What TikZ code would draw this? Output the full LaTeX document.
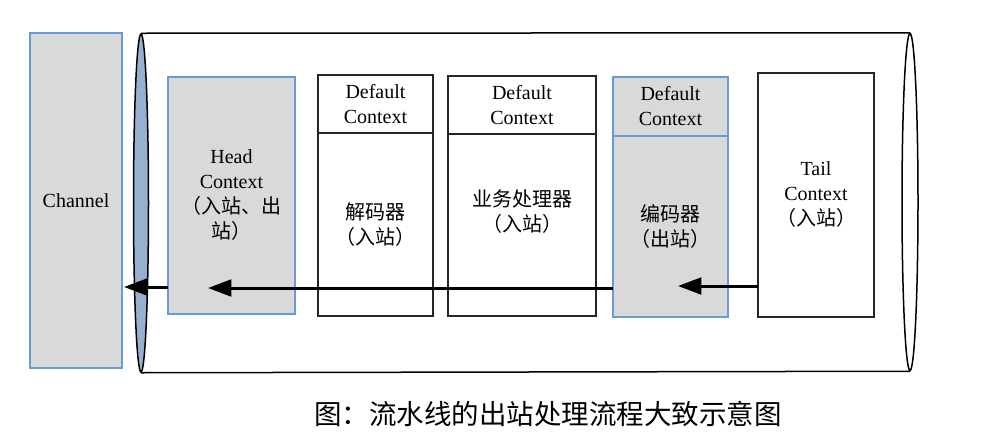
\documentclass[tikz,border=0pt]{standalone}
\usepackage{fontspec}
\setmainfont{Liberation Serif}
\newfontfamily\cjk{Noto Sans CJK SC}
\usetikzlibrary{shapes.geometric, arrows.meta, positioning}
\definecolor{boxgray}{HTML}{D9D9D9}
\definecolor{boxblue}{HTML}{6A9BD8}
\definecolor{ringblue}{HTML}{98B0CF}

\begin{document}
\begin{tikzpicture}[
  x=0.6pt, y=-0.6pt,
  font=\fontsize{12}{15}\selectfont,
  plain/.style={draw=black!85, line width=0.9pt, outer sep=0pt, inner sep=0pt, align=center},
  shaded/.style={draw=boxblue, fill=boxgray, line width=0.9pt, outer sep=0pt, inner sep=0pt, align=center},
  dim/.style 2 args={minimum width=#1*0.6pt, minimum height=#2*0.6pt},
  flow/.style={line width=1.8pt, -{Triangle[length=14pt, width=10pt]}}]

  \useasboundingbox (0,0) rectangle (994,435);

  % pipeline
  \node[ellipse, draw, fill=ringblue, line width=0.9pt, inner sep=0pt, dim={15}{338}] (lring) at (141,203) {};
  \node[ellipse, draw, fill=white, line width=0.9pt, inner sep=0pt, dim={16}{337}] (rring) at (910,202) {};
  \draw[line width=0.9pt] (lring.north) -- (rring.north) (lring.south) -- (rring.south);

  \node[shaded, dim={92}{335}] (channel) at (76,200.5) {Channel};

  \node[shaded, dim={127}{237}] (head) at (231.5,195.5)
    {Head\\Context\\{\cjk （入站、出}\\{\cjk 站）}};

  \node[plain, dim={115}{58}] (dechead) at (375.5,104) {Default\\Context};
  \node[plain, dim={115}{183}, below=0pt of dechead] (decbody)
    {{\cjk 解码器}\\{\cjk （入站）}};

  \node[plain, dim={148}{58}] (bizhead) at (522,105) {Default\\Context};
  \node[plain, dim={148}{182}, below=0pt of bizhead] (bizbody) {};
  \node[align=center] (biztext) at (522,211.5) {{\cjk 业务处理器}\\{\cjk （入站）}};

  \node[shaded, dim={115}{59}] (enchead) at (670.5,106.5) {Default\\Context};
  \node[shaded, dim={115}{181}, below=0pt of enchead] (encbody)
    {{\cjk 编码器}\\{\cjk （出站）}};

  \node[plain, dim={116}{244}] (tail) at (816,195) {Tail\\Context\\{\cjk （入站）}};

  % outbound flow
  \coordinate (tip1) at (678,286);
  \coordinate (tip2) at (208,288);
  \coordinate (tip3) at (124,287);
  \draw[flow] (tail.west |- tip1) -- (tip1);
  \draw[flow] (encbody.west |- tip2) -- (tip2);
  \draw[flow] (head.west |- tip3) -- (tip3);

  \node[font=\cjk\fontsize{16.5}{20}\selectfont] (caption) at (548,414)
    {图：流水线的出站处理流程大致示意图};
\end{tikzpicture}
\end{document}
